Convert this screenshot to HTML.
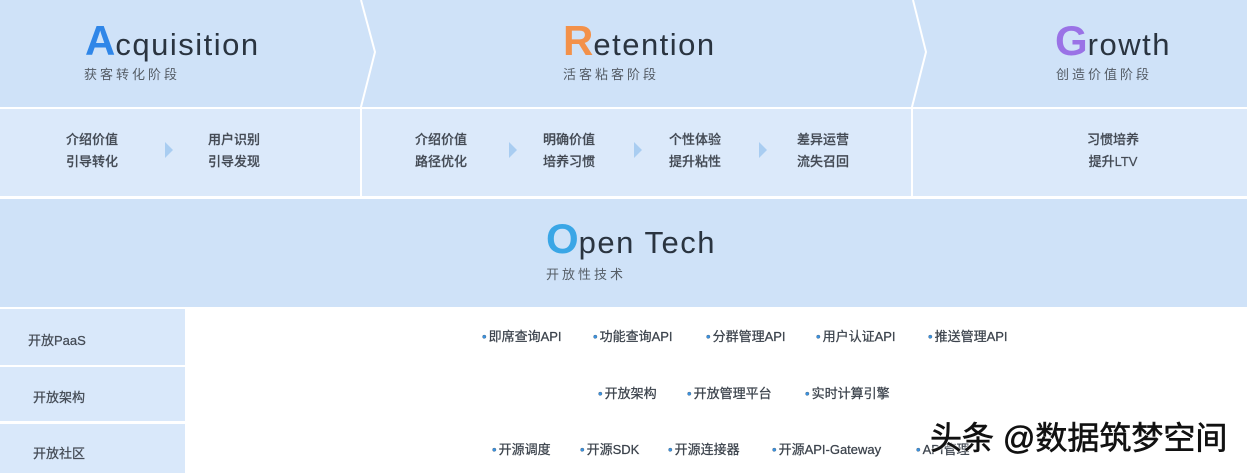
<!DOCTYPE html>
<html><head><meta charset="utf-8"><style>
*{margin:0;padding:0;box-sizing:border-box}
body{width:1247px;height:473px;overflow:hidden;background:#fff;position:relative;font-family:"Liberation Sans","Noto Sans CJK SC",sans-serif}
.a{position:absolute}
.t{position:absolute;color:#2a3440;font-size:31px;line-height:1;white-space:nowrap;letter-spacing:1.5px}
.t b{font-size:42px;font-weight:900;letter-spacing:0}
.sub{position:absolute;font-size:13px;letter-spacing:3px;color:#555d66;line-height:1}
.s{position:absolute;font-size:13px;color:#444b55;line-height:22px;font-weight:500;text-align:center;-webkit-text-stroke:0.2px #444b55}
.it{position:absolute;font-size:13px;color:#3c434c;white-space:nowrap;line-height:1;-webkit-text-stroke:0.25px #3c434c}
.it i{font-style:normal;color:#3a92e0;margin-right:2px}
.lab{position:absolute;left:0;width:185px;font-size:13px;color:#444b55;padding-left:28px;-webkit-text-stroke:0.25px #444b55}
</style></head><body>
<div class="a" style="left:0;top:0;width:1247px;height:107px;background:#cfe2f8"></div>
<div class="a" style="left:0;top:109px;width:1247px;height:87px;background:#dbe9fa"></div>
<div class="a" style="left:0;top:199px;width:1247px;height:108px;background:#cfe2f8"></div>
<div class="a" style="left:0;top:309px;width:185px;height:56px;background:#d9e8fa"></div>
<div class="a" style="left:0;top:367px;width:185px;height:54px;background:#d9e8fa"></div>
<div class="a" style="left:0;top:424px;width:185px;height:49px;background:#d9e8fa"></div>
<svg class="a" style="left:0;top:0" width="1247" height="200">
<polyline points="361,0 375,52 361,107 361,196" fill="none" stroke="#fff" stroke-width="2"/>
<polyline points="913,0 926,52 912,107 912,196" fill="none" stroke="#fff" stroke-width="2"/>
<g fill="#a9cdf1">
<polygon points="165,142 173,150 165,158"/>
<polygon points="509,142 517,150 509,158"/>
<polygon points="634,142 642,150 634,158"/>
<polygon points="759,142 767,150 759,158"/>
</g>
</svg>
<div class="t" style="left:85px;top:20px"><b style="color:#2f86e8">A</b>cquisition</div>
<div class="sub" style="left:84px;top:68px">获客转化阶段</div>
<div class="t" style="left:563px;top:20px"><b style="color:#f3914a">R</b>etention</div>
<div class="sub" style="left:563px;top:68px">活客粘客阶段</div>
<div class="t" style="left:1055px;top:20px"><b style="color:#9a72e6">G</b>rowth</div>
<div class="sub" style="left:1056px;top:68px">创造价值阶段</div>
<div class="t" style="left:546px;top:218px"><b style="color:#3aa6e6">O</b>pen Tech</div>
<div class="sub" style="left:546px;top:268px">开放性技术</div>

<div class="s" style="left:66px;top:129px">介绍价值<br>引导转化</div>
<div class="s" style="left:208px;top:129px">用户识别<br>引导发现</div>
<div class="s" style="left:415px;top:129px">介绍价值<br>路径优化</div>
<div class="s" style="left:543px;top:129px">明确价值<br>培养习惯</div>
<div class="s" style="left:669px;top:129px">个性体验<br>提升粘性</div>
<div class="s" style="left:797px;top:129px">差异运营<br>流失召回</div>
<div class="s" style="left:1087px;top:129px">习惯培养<br>提升LTV</div>

<div class="lab" style="top:330px">开放PaaS</div>
<div class="lab" style="top:387px;padding-left:33px">开放架构</div>
<div class="lab" style="top:443px;padding-left:33px">开放社区</div>

<div class="it" style="left:482px;top:330px"><i>•</i>即席查询API</div>
<div class="it" style="left:593px;top:330px"><i>•</i>功能查询API</div>
<div class="it" style="left:706px;top:330px"><i>•</i>分群管理API</div>
<div class="it" style="left:816px;top:330px"><i>•</i>用户认证API</div>
<div class="it" style="left:928px;top:330px"><i>•</i>推送管理API</div>

<div class="it" style="left:598px;top:387px"><i>•</i>开放架构</div>
<div class="it" style="left:687px;top:387px"><i>•</i>开放管理平台</div>
<div class="it" style="left:805px;top:387px"><i>•</i>实时计算引擎</div>

<div class="it" style="left:492px;top:443px"><i>•</i>开源调度</div>
<div class="it" style="left:580px;top:443px"><i>•</i>开源SDK</div>
<div class="it" style="left:668px;top:443px"><i>•</i>开源连接器</div>
<div class="it" style="left:772px;top:443px"><i>•</i>开源API-Gateway</div>
<div class="it" style="left:916px;top:443px"><i>•</i>API管理</div>

<div class="a" style="left:930px;top:422px;font-size:32px;color:#111;line-height:1;white-space:nowrap;-webkit-text-stroke:0.6px #111;text-shadow:0 0 2px #fff,0 0 2px #fff,0 0 3px #fff">头条 @数据筑梦空间</div>
</body></html>
